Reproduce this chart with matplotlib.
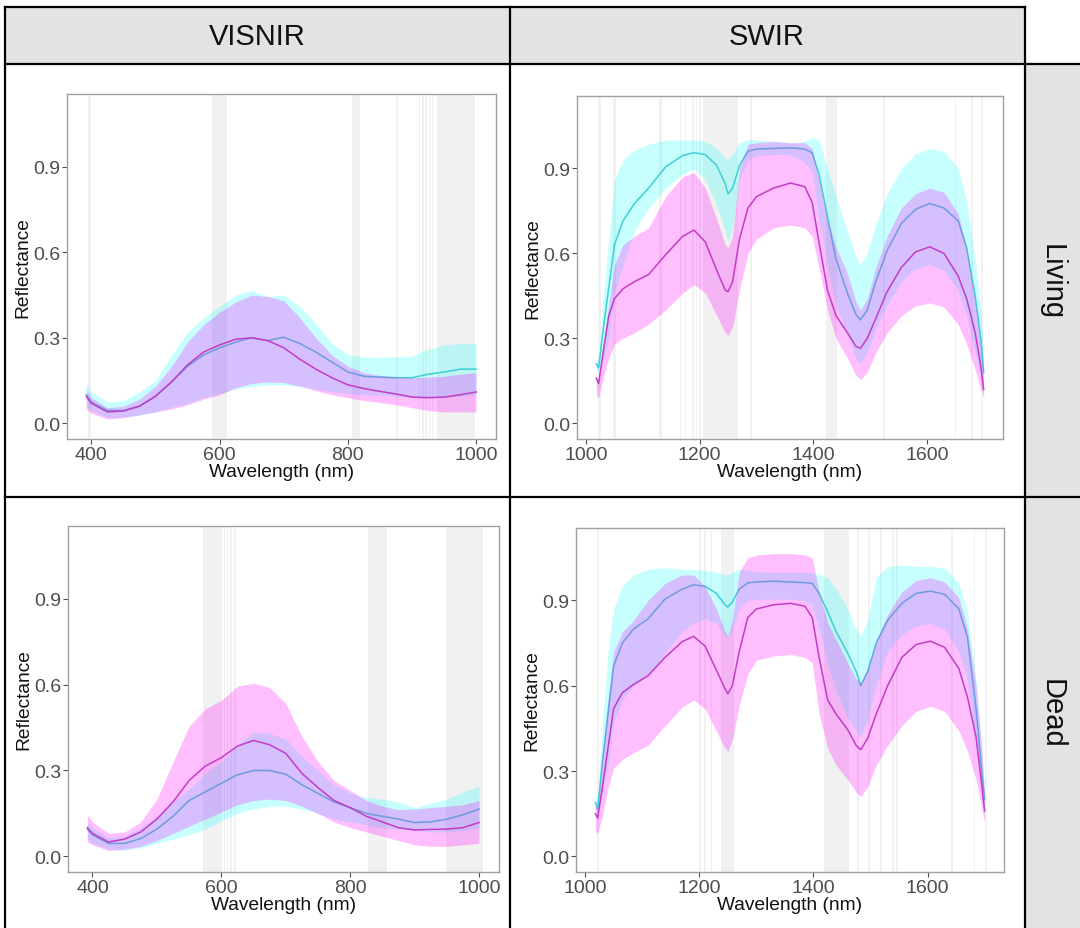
import numpy as np
import matplotlib
matplotlib.use("Agg")
import matplotlib.pyplot as plt
from matplotlib.lines import Line2D
from matplotlib.patches import Rectangle

plt.rcParams['font.family'] = ['Liberation Sans', 'DejaVu Sans']

# ---------------- data ----------------
vis_nm = [392, 400, 425, 450, 475, 500, 525, 550, 575, 600, 625, 650, 675,
          700, 725, 750, 775, 800, 825, 850, 875, 900, 925, 950, 975, 1000]

# VISNIR - Living
vis_liv_cyan_mean = [0.10, 0.075, 0.045, 0.045, 0.06, 0.095, 0.145, 0.20, 0.24, 0.265, 0.285, 0.30, 0.29,
                     0.302, 0.28, 0.25, 0.215, 0.18, 0.165, 0.162, 0.16, 0.16, 0.172, 0.18, 0.19, 0.19]
vis_liv_cyan_lo = [0.06, 0.045, 0.02, 0.022, 0.028, 0.04, 0.058, 0.07, 0.09, 0.105, 0.12, 0.13, 0.135,
                   0.135, 0.13, 0.12, 0.11, 0.105, 0.10, 0.098, 0.095, 0.09, 0.088, 0.09, 0.095, 0.10]
vis_liv_cyan_hi = [0.14, 0.11, 0.075, 0.08, 0.11, 0.15, 0.24, 0.32, 0.37, 0.41, 0.45, 0.465, 0.445,
                   0.45, 0.41, 0.35, 0.28, 0.24, 0.232, 0.232, 0.233, 0.235, 0.26, 0.275, 0.28, 0.28]
vis_liv_mag_mean = [0.095, 0.07, 0.04, 0.043, 0.06, 0.095, 0.145, 0.205, 0.25, 0.275, 0.295, 0.30, 0.29,
                    0.265, 0.225, 0.19, 0.16, 0.135, 0.122, 0.112, 0.103, 0.092, 0.09, 0.092, 0.10, 0.11]
vis_liv_mag_lo = [0.05, 0.035, 0.015, 0.02, 0.03, 0.04, 0.05, 0.065, 0.085, 0.10, 0.125, 0.14, 0.145,
                  0.143, 0.13, 0.115, 0.10, 0.09, 0.08, 0.073, 0.065, 0.055, 0.045, 0.04, 0.04, 0.04]
vis_liv_mag_hi = [0.12, 0.09, 0.055, 0.06, 0.085, 0.13, 0.20, 0.285, 0.345, 0.39, 0.425, 0.45, 0.445,
                  0.43, 0.37, 0.30, 0.24, 0.20, 0.178, 0.168, 0.163, 0.16, 0.162, 0.165, 0.172, 0.178]

# VISNIR - Dead
vis_dead_cyan_mean = [0.095, 0.075, 0.045, 0.045, 0.062, 0.095, 0.14, 0.195, 0.225, 0.255, 0.285, 0.30, 0.30,
                      0.287, 0.25, 0.22, 0.19, 0.17, 0.15, 0.14, 0.13, 0.118, 0.12, 0.13, 0.145, 0.165]
vis_dead_cyan_lo = [0.06, 0.045, 0.025, 0.022, 0.03, 0.045, 0.06, 0.075, 0.095, 0.125, 0.15, 0.165, 0.175,
                    0.175, 0.165, 0.15, 0.13, 0.12, 0.11, 0.10, 0.095, 0.09, 0.085, 0.085, 0.09, 0.10]
vis_dead_cyan_hi = [0.12, 0.10, 0.065, 0.07, 0.10, 0.14, 0.19, 0.235, 0.29, 0.33, 0.39, 0.435, 0.43,
                    0.41, 0.35, 0.30, 0.25, 0.22, 0.205, 0.20, 0.19, 0.17, 0.185, 0.20, 0.225, 0.245]
vis_dead_mag_mean = [0.10, 0.08, 0.05, 0.06, 0.085, 0.13, 0.19, 0.265, 0.315, 0.345, 0.385, 0.405, 0.39,
                     0.36, 0.29, 0.24, 0.195, 0.17, 0.14, 0.12, 0.10, 0.092, 0.094, 0.095, 0.10, 0.118]
vis_dead_mag_lo = [0.05, 0.04, 0.02, 0.025, 0.035, 0.055, 0.08, 0.105, 0.13, 0.155, 0.18, 0.195, 0.20,
                   0.195, 0.175, 0.15, 0.12, 0.10, 0.085, 0.07, 0.055, 0.04, 0.035, 0.035, 0.04, 0.045]
vis_dead_mag_hi = [0.145, 0.12, 0.08, 0.085, 0.12, 0.20, 0.33, 0.455, 0.515, 0.545, 0.595, 0.605, 0.59,
                   0.535, 0.42, 0.33, 0.265, 0.23, 0.195, 0.175, 0.163, 0.165, 0.17, 0.175, 0.18, 0.195]

swir_nm = [1018, 1022, 1030, 1040, 1050, 1065, 1085, 1110, 1140, 1170, 1190, 1210, 1230, 1245,
           1250, 1258, 1270, 1285, 1300, 1330, 1360, 1385, 1398, 1410, 1425, 1440, 1460, 1475,
           1483, 1495, 1510, 1530, 1555, 1580, 1605, 1630, 1655, 1670, 1685, 1695, 1700]

# SWIR - Living
swir_liv_cyan_mean = [0.21, 0.195, 0.33, 0.48, 0.63, 0.715, 0.775, 0.83, 0.905, 0.945, 0.955, 0.948, 0.91, 0.845,
                      0.81, 0.83, 0.91, 0.96, 0.968, 0.97, 0.972, 0.968, 0.955, 0.88, 0.73, 0.58, 0.46, 0.385,
                      0.365, 0.40, 0.50, 0.61, 0.705, 0.755, 0.776, 0.76, 0.715, 0.62, 0.45, 0.30, 0.18]
swir_liv_cyan_lo = [0.19, 0.18, 0.22, 0.30, 0.46, 0.56, 0.68, 0.76, 0.83, 0.88, 0.90, 0.86, 0.77, 0.68,
                    0.64, 0.69, 0.86, 0.93, 0.945, 0.948, 0.948, 0.92, 0.89, 0.72, 0.55, 0.42, 0.31, 0.23,
                    0.21, 0.25, 0.33, 0.42, 0.50, 0.545, 0.56, 0.54, 0.47, 0.38, 0.25, 0.17, 0.13]
swir_liv_cyan_hi = [0.23, 0.22, 0.45, 0.65, 0.86, 0.93, 0.965, 0.985, 1.0, 1.0, 1.0, 0.995, 0.97, 0.935,
                    0.93, 0.95, 0.99, 1.0, 1.0, 0.995, 0.99, 0.995, 1.01, 1.0, 0.90, 0.80, 0.68, 0.59,
                    0.56, 0.60, 0.70, 0.81, 0.90, 0.95, 0.97, 0.96, 0.90, 0.78, 0.58, 0.40, 0.22]
swir_liv_mag_mean = [0.16, 0.14, 0.25, 0.38, 0.44, 0.475, 0.50, 0.525, 0.595, 0.66, 0.682, 0.64, 0.54, 0.47,
                     0.465, 0.50, 0.65, 0.76, 0.80, 0.83, 0.848, 0.835, 0.78, 0.64, 0.47, 0.38, 0.32, 0.272,
                     0.265, 0.30, 0.37, 0.465, 0.55, 0.605, 0.623, 0.60, 0.52, 0.44, 0.32, 0.20, 0.12]
swir_liv_mag_lo = [0.10, 0.09, 0.16, 0.23, 0.28, 0.30, 0.32, 0.35, 0.40, 0.46, 0.49, 0.46, 0.38, 0.32,
                   0.31, 0.34, 0.47, 0.60, 0.65, 0.69, 0.70, 0.69, 0.66, 0.55, 0.40, 0.30, 0.23, 0.17,
                   0.155, 0.18, 0.25, 0.32, 0.38, 0.415, 0.425, 0.41, 0.35, 0.28, 0.19, 0.12, 0.09]
swir_liv_mag_hi = [0.16, 0.15, 0.28, 0.42, 0.56, 0.63, 0.66, 0.69, 0.80, 0.87, 0.885, 0.83, 0.72, 0.63,
                   0.62, 0.66, 0.90, 0.985, 0.99, 0.995, 0.99, 0.99, 0.97, 0.86, 0.72, 0.62, 0.53, 0.43,
                   0.40, 0.44, 0.55, 0.66, 0.76, 0.81, 0.83, 0.815, 0.74, 0.62, 0.43, 0.27, 0.16]

# SWIR - Dead
swir_dead_cyan_mean = [0.19, 0.165, 0.33, 0.50, 0.67, 0.75, 0.80, 0.835, 0.905, 0.94, 0.955, 0.95, 0.925, 0.885,
                       0.877, 0.895, 0.94, 0.962, 0.965, 0.968, 0.965, 0.963, 0.96, 0.925, 0.86, 0.79, 0.715, 0.65,
                       0.60, 0.65, 0.75, 0.83, 0.89, 0.925, 0.933, 0.922, 0.87, 0.77, 0.52, 0.30, 0.20]
swir_dead_cyan_lo = [0.165, 0.15, 0.22, 0.32, 0.47, 0.55, 0.60, 0.635, 0.716, 0.79, 0.82, 0.835, 0.82, 0.775,
                     0.77, 0.80, 0.87, 0.90, 0.905, 0.905, 0.905, 0.90, 0.88, 0.80, 0.68, 0.58, 0.49, 0.44,
                     0.422, 0.48, 0.60, 0.72, 0.78, 0.81, 0.82, 0.80, 0.72, 0.62, 0.40, 0.22, 0.14]
swir_dead_cyan_hi = [0.21, 0.20, 0.45, 0.72, 0.87, 0.95, 0.99, 1.01, 1.015, 1.01, 1.01, 1.005, 1.0, 0.99,
                     0.99, 1.0, 1.01, 1.005, 1.0, 1.0, 1.0, 1.0, 1.0, 0.99, 0.98, 0.94, 0.87, 0.80,
                     0.775, 0.83, 0.98, 1.02, 1.025, 1.02, 1.02, 1.015, 0.96, 0.86, 0.62, 0.38, 0.22]
swir_dead_mag_mean = [0.15, 0.135, 0.24, 0.38, 0.52, 0.575, 0.605, 0.635, 0.70, 0.755, 0.774, 0.74, 0.655, 0.59,
                      0.572, 0.60, 0.72, 0.84, 0.87, 0.885, 0.89, 0.88, 0.84, 0.70, 0.55, 0.50, 0.446, 0.39,
                      0.375, 0.415, 0.50, 0.60, 0.70, 0.745, 0.757, 0.735, 0.66, 0.56, 0.42, 0.25, 0.16]
swir_dead_mag_lo = [0.09, 0.08, 0.14, 0.24, 0.31, 0.34, 0.365, 0.39, 0.46, 0.525, 0.55, 0.52, 0.44, 0.38,
                    0.37, 0.41, 0.53, 0.64, 0.69, 0.705, 0.71, 0.70, 0.68, 0.50, 0.38, 0.32, 0.27, 0.225,
                    0.21, 0.245, 0.32, 0.39, 0.46, 0.51, 0.528, 0.51, 0.44, 0.37, 0.27, 0.17, 0.12]
swir_dead_mag_hi = [0.18, 0.16, 0.35, 0.55, 0.72, 0.79, 0.83, 0.90, 0.96, 0.99, 0.99, 0.95, 0.87, 0.79,
                    0.775, 0.83, 1.0, 1.05, 1.06, 1.065, 1.065, 1.06, 1.05, 0.93, 0.82, 0.76, 0.68, 0.625,
                    0.61, 0.66, 0.76, 0.85, 0.93, 0.97, 0.98, 0.965, 0.91, 0.80, 0.60, 0.38, 0.22]

# important wavelength bands (nm)
vis_liv_bands = [(394, 399), (588, 612), (807, 819), (875, 878), (911, 913), (916, 918),
                 (921, 923), (926, 928), (931, 933), (939, 998)]
swir_liv_bands = [(1021, 1027), (1048, 1053), (1129, 1133), (1165, 1167), (1174, 1176),
                  (1187, 1190), (1193, 1196), (1199, 1202), (1205, 1267), (1289, 1292),
                  (1423, 1442), (1523, 1527), (1649, 1652), (1678, 1681), (1696, 1699)]
vis_dead_bands = [(571, 601), (604, 605.5), (609, 610.5), (614, 616), (619, 622),
                  (828, 857), (948, 1006)]
swir_dead_bands = [(1020, 1024), (1199, 1203), (1209, 1212), (1220, 1223), (1238, 1261),
                   (1419, 1462), (1477, 1480), (1496, 1499), (1517, 1521), (1538, 1541),
                   (1545, 1548), (1642, 1645), (1681, 1684), (1701, 1704)]

col_names = ["VISNIR", "SWIR"]
row_names = ["Living", "Dead"]

# ---------------- figure ----------------
W, H = 1080, 929
fig = plt.figure(figsize=(W / 100, H / 100), dpi=100)
fig.patch.set_facecolor("white")


def fx(x):
    return x / W


def fy(y):
    return 1 - y / H


def hline(y, x0, x1):
    fig.add_artist(Line2D([fx(x0), fx(x1)], [fy(y), fy(y)], color="black", lw=1.6,
                          transform=fig.transFigure, zorder=5))


def vline(x, y0, y1):
    fig.add_artist(Line2D([fx(x), fx(x)], [fy(y0), fy(y1)], color="black", lw=1.6,
                          transform=fig.transFigure, zorder=5))


strip_gray = "#E4E2E2"
fig.add_artist(Rectangle((fx(5), fy(65)), fx(1025) - fx(5), fy(8) - fy(65),
                         facecolor=strip_gray, edgecolor="none", transform=fig.transFigure))
fig.add_artist(Rectangle((fx(1025), fy(929)), fx(1080) - fx(1025), fy(65) - fy(929),
                         facecolor=strip_gray, edgecolor="none", transform=fig.transFigure))
hline(8, 5, 1025)
hline(65, 5, 1080)
hline(498, 5, 1080)
vline(5, 8, 929)
vline(510, 8, 929)
vline(1025, 8, 929)

fig.text(fx(257), fy(37), col_names[0], ha="center", va="center", fontsize=21, color="#111111")
fig.text(fx(767), fy(37), col_names[1], ha="center", va="center", fontsize=21, color="#111111")
fig.text(fx(1052), fy(282), row_names[0], ha="center", va="center", rotation=270, fontsize=21, color="#111111")
fig.text(fx(1052), fy(714), row_names[1], ha="center", va="center", rotation=270, fontsize=21, color="#111111")

cyan_line = "#3ECFD6"
mag_line = "#C23CC6"
cyan_fill = "#00FFFF"
mag_fill = "#FF00FF"
band_col = "#F1F1F1"

panels = [
    # (left, top, right, bottom) px, x, bands, cyan(mean, lo, hi), magenta(mean, lo, hi), xlim, xticks
    ((67, 95, 496, 440), vis_nm, vis_liv_bands,
     (vis_liv_cyan_mean, vis_liv_cyan_lo, vis_liv_cyan_hi),
     (vis_liv_mag_mean, vis_liv_mag_lo, vis_liv_mag_hi), (362, 1031), [400, 600, 800, 1000]),
    ((577, 97, 1003, 440), swir_nm, swir_liv_bands,
     (swir_liv_cyan_mean, swir_liv_cyan_lo, swir_liv_cyan_hi),
     (swir_liv_mag_mean, swir_liv_mag_lo, swir_liv_mag_hi), (984, 1734), [1000, 1200, 1400, 1600]),
    ((68, 527, 499, 873), vis_nm, vis_dead_bands,
     (vis_dead_cyan_mean, vis_dead_cyan_lo, vis_dead_cyan_hi),
     (vis_dead_mag_mean, vis_dead_mag_lo, vis_dead_mag_hi), (362, 1031), [400, 600, 800, 1000]),
    ((576, 529, 1004, 873), swir_nm, swir_dead_bands,
     (swir_dead_cyan_mean, swir_dead_cyan_lo, swir_dead_cyan_hi),
     (swir_dead_mag_mean, swir_dead_mag_lo, swir_dead_mag_hi), (984, 1734), [1000, 1200, 1400, 1600]),
]

for (l, t, r, b), x, bands, cy, mg, xlim, xticks in panels:
    ax = fig.add_axes([fx(l), fy(b), fx(r) - fx(l), fy(t) - fy(b)])
    for b0, b1 in bands:
        ax.axvspan(b0, b1, color=band_col, lw=0, zorder=0)
    ax.fill_between(x, cy[1], cy[2], color=cyan_fill, alpha=0.22, lw=0, zorder=1)
    ax.plot(x, cy[0], color=cyan_line, lw=1.1, zorder=2)
    ax.fill_between(x, mg[1], mg[2], color=mag_fill, alpha=0.25, lw=0, zorder=3)
    ax.plot(x, mg[0], color=mag_line, lw=1.1, zorder=4)

    ax.set_xlim(*xlim)
    ax.set_ylim(-0.055, 1.155)
    ax.set_xticks(xticks)
    ax.set_yticks([0.0, 0.3, 0.6, 0.9])
    ax.set_yticklabels(["0.0", "0.3", "0.6", "0.9"])
    ax.tick_params(colors="#4D4D4D", labelsize=14, length=3.5, width=0.8, pad=1.5)
    for s in ax.spines.values():
        s.set_color("#A0A0A0")
        s.set_linewidth(1.0)
    ax.set_xlabel("Wavelength (nm)", fontsize=13.8, color="#111111", labelpad=0)
    ax.set_ylabel("Reflectance", fontsize=13.8, color="#111111", labelpad=1)

fig.savefig("out.png", dpi=100)
